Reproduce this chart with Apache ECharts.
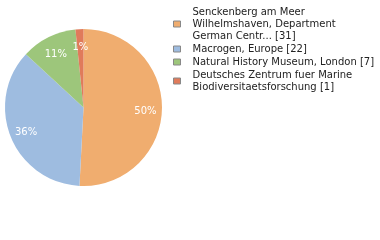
<!DOCTYPE html>
<html>
<head>
<meta charset="utf-8">
<script src="https://cdn.jsdelivr.net/npm/echarts@6/dist/echarts.min.js"></script>
<style>
  html, body { margin: 0; padding: 0; background: #fff; }
  #chart { width: 380px; height: 240px; }
</style>
</head>
<body>
<div id="chart"></div>
<script>
var names = [
  "Senckenberg am Meer\nWilhelmshaven, Department\nGerman Centr...",
  "Macrogen, Europe",
  "Natural History Museum, London",
  "Deutsches Zentrum fuer Marine\nBiodiversitaetsforschung"
];
var counts = [31, 22, 7, 1];
var colors = ["#f0ad6f", "#9ebce0", "#9dc67b", "#e07b5b"];

var total = counts.reduce(function (a, b) { return a + b; }, 0);
var pieData = names.map(function (n, i) {
  return { name: n, value: counts[i] };
});

var chart = echarts.init(document.getElementById("chart"));
chart.setOption({
  color: colors,
  animation: false,
  legend: {
    orient: "vertical",
    left: 173,
    top: 6,
    padding: 0,
    itemWidth: 7,
    itemHeight: 6,
    itemGap: 1,
    icon: "rect",
    itemStyle: { borderColor: "#888", borderWidth: 1 },
    textStyle: {
      fontFamily: "DejaVu Sans",
      fontSize: 10,
      color: "#222",
      lineHeight: 12,
      padding: [0, 0, 0, 7]
    },
    formatter: function (name) {
      var i = names.indexOf(name);
      return name + " [" + counts[i] + "]";
    },
    data: names
  },
  series: [
    {
      type: "pie",
      center: [83.5, 107.5],
      radius: [0, 78.5],
      startAngle: 90,
      clockwise: true,
      label: { show: false },
      labelLine: { show: false },
      emphasis: { disabled: true },
      data: pieData
    },
    {
      type: "pie",
      center: [83.5, 107.5],
      radius: [39.5, 78.5],
      startAngle: 90,
      clockwise: true,
      silent: true,
      itemStyle: { color: "transparent" },
      label: {
        show: true,
        position: "inside",
        offset: [0, 2],
        color: "#fff",
        fontFamily: "DejaVu Sans",
        fontSize: 10,
        formatter: function (p) {
          return Math.floor(p.value / total * 100) + "%";
        }
      },
      labelLine: { show: false },
      emphasis: { disabled: true },
      data: pieData
    }
  ]
});
</script>
</body>
</html>
